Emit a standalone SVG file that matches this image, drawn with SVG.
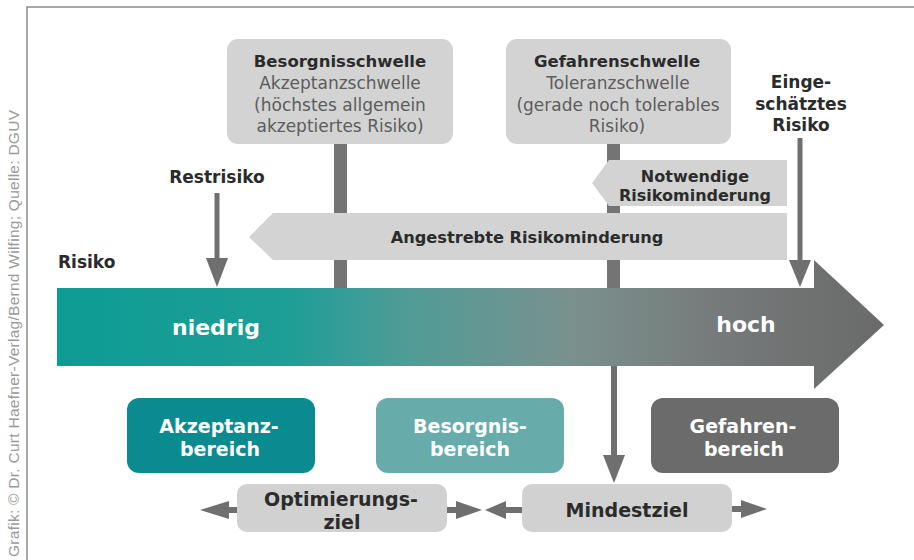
<svg xmlns="http://www.w3.org/2000/svg" width="914" height="560" viewBox="0 0 914 560">
<defs>
<linearGradient id="riskGrad" gradientUnits="userSpaceOnUse" x1="57" y1="0" x2="884" y2="0">
<stop offset="0" stop-color="#0d9c95"/>
<stop offset="0.28" stop-color="#1d9e96"/>
<stop offset="0.42" stop-color="#4f9c97"/>
<stop offset="0.62" stop-color="#7a918e"/>
<stop offset="0.8" stop-color="#767a7a"/>
<stop offset="1" stop-color="#6a6a6a"/>
</linearGradient>
</defs>
<style>
.b{font-family:"DejaVu Sans",sans-serif;font-weight:bold;fill:#2b2b2b;text-anchor:middle}
.r{font-family:"DejaVu Sans",sans-serif;fill:#5c5c5c;text-anchor:middle;font-size:17px}
.w{font-family:"DejaVu Sans",sans-serif;font-weight:bold;fill:#ffffff;text-anchor:middle}
.gbox{fill:#d3d3d3}
.bar{fill:#747474}
.arr{fill:#6f6f6f}
.ln{stroke:#6f6f6f;fill:none}
</style>

<path d="M27,560 V7 H914" fill="none" stroke="#8a8a8a" stroke-width="1.5"/>
<text transform="translate(19,557) rotate(-90)" font-family="Liberation Sans,sans-serif" font-size="15.5" fill="#9a9a9a" textLength="447" lengthAdjust="spacing">Grafik: © Dr. Curt Haefner-Verlag/Bernd Wilfing; Quelle: DGUV</text>

<g id="connectors">
<rect class="bar" x="334" y="144" width="13" height="146"/>
<rect class="bar" x="607" y="144" width="13" height="146"/>
<line class="ln" x1="614" y1="366" x2="614" y2="458" stroke-width="6"/>
<polygon class="arr" points="603,455 625,455 614,483"/>
<line class="ln" x1="217" y1="193" x2="217" y2="262" stroke-width="5"/>
<polygon class="arr" points="206,258 228,258 217,287"/>
<line class="ln" x1="800" y1="138" x2="800" y2="262" stroke-width="5"/>
<polygon class="arr" points="789,260 811,260 800,287"/>
<line class="ln" x1="226" y1="510" x2="237" y2="510" stroke-width="6"/>
<polygon class="arr" points="200,510 229,501 229,519"/>
<line class="ln" x1="447" y1="510" x2="459" y2="510" stroke-width="6"/>
<polygon class="arr" points="482,510 456,501 456,519"/>
<line class="ln" x1="503" y1="510" x2="522" y2="510" stroke-width="6"/>
<polygon class="arr" points="485,510 506,501 506,519"/>
<line class="ln" x1="732" y1="509" x2="744" y2="509" stroke-width="6"/>
<polygon class="arr" points="767,509 741,500 741,518"/>
</g>

<g id="main-arrow">
<polygon points="57,288 814,288 814,260 884,325 814,389 814,366 57,366" fill="url(#riskGrad)"/>
<text class="w" x="216" y="335" font-size="22">niedrig</text>
<text class="w" x="746" y="332" font-size="22">hoch</text>
</g>

<g id="besorgnisschwelle">
<rect class="gbox" x="227" y="39" width="226" height="105" rx="11"/>
<text class="b" x="340" y="67" font-size="16.5">Besorgnisschwelle</text>
<text class="r" x="340" y="89">Akzeptanzschwelle</text>
<text class="r" x="340" y="111">(höchstes allgemein</text>
<text class="r" x="340" y="132">akzeptiertes Risiko)</text>
</g>

<g id="gefahrenschwelle">
<rect class="gbox" x="506" y="39" width="225" height="105" rx="11"/>
<text class="b" x="617" y="67" font-size="16.5">Gefahrenschwelle</text>
<text class="r" x="618" y="89">Toleranzschwelle</text>
<text class="r" x="618" y="111">(gerade noch tolerables</text>
<text class="r" x="617" y="132">Risiko)</text>
</g>

<g id="notwendige">
<polygon class="gbox" points="592,183 609,160 787,160 787,206 609,206"/>
<text class="b" x="695" y="182" font-size="16">Notwendige</text>
<text class="b" x="695" y="201" font-size="16">Risikominderung</text>
</g>

<g id="angestrebte">
<polygon class="gbox" points="249,237 273,213 787,213 787,260 273,260"/>
<text class="b" x="527" y="243" font-size="16.2">Angestrebte Risikominderung</text>
</g>

<g id="restrisiko">
<text class="b" x="217" y="183" font-size="17">Restrisiko</text>
</g>

<g id="risiko">
<text class="b" x="58" y="268" font-size="17" style="text-anchor:start">Risiko</text>
</g>

<g id="eingeschaetztes">
<text class="b" x="801" y="88" font-size="17">Einge-</text>
<text class="b" x="801" y="110" font-size="17">schätztes</text>
<text class="b" x="801" y="131" font-size="17">Risiko</text>
</g>

<g id="akzeptanzbereich">
<rect x="127" y="398" width="188" height="75" rx="12" fill="#0b8b8f"/>
<text class="w" x="219" y="433" font-size="19">Akzeptanz-</text>
<text class="w" x="220" y="456" font-size="19">bereich</text>
</g>

<g id="besorgnisbereich">
<rect x="376" y="398" width="188" height="75" rx="12" fill="#67acab"/>
<text class="w" x="470" y="433" font-size="19">Besorgnis-</text>
<text class="w" x="470" y="456" font-size="19">bereich</text>
</g>

<g id="gefahrenbereich">
<rect x="651" y="398" width="188" height="75" rx="12" fill="#6b6b6b"/>
<text class="w" x="743" y="433" font-size="19">Gefahren-</text>
<text class="w" x="744" y="456" font-size="19">bereich</text>
</g>

<g id="optimierungsziel">
<rect x="237" y="484" width="210" height="48" rx="10" fill="#d1d1d1"/>
<text class="b" x="341" y="506" font-size="19">Optimierungs-</text>
<text class="b" x="342" y="529" font-size="19">ziel</text>
</g>

<g id="mindestziel">
<rect x="522" y="484" width="210" height="48" rx="10" fill="#d1d1d1"/>
<text class="b" x="627" y="517" font-size="19">Mindestziel</text>
</g>
</svg>
